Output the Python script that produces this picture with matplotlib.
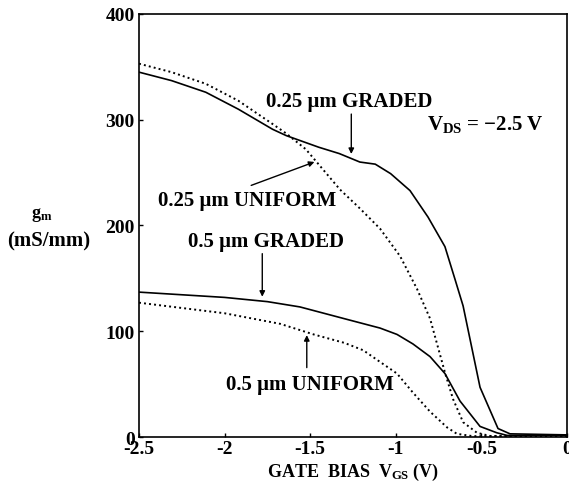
import matplotlib.pyplot as plt
from matplotlib.ticker import FixedLocator, FixedFormatter

# gate bias (V) and transconductance (mS/mm)
vgs_025_graded = [-2.5, -2.31, -2.11, -1.92, -1.72, -1.64, -1.45, -1.33, -1.21, -1.12,
                  -1.03, -0.917, -0.812, -0.713, -0.654, -0.607, -0.508, -0.403, -0.333, 0.0]
gm_025_graded = [345, 337, 326, 310, 291, 285, 274, 268, 260, 258,
                 249, 233, 208, 180, 149, 124, 47, 8, 3, 2]

vgs_025_uniform = [-2.5, -2.31, -2.11, -1.92, -1.72, -1.64, -1.525, -1.326, -1.209, -1.092,
                   -0.975, -0.876, -0.80, -0.713, -0.666, -0.607, -0.526, -0.45, 0.0]
gm_025_uniform = [353, 345, 334, 318, 296, 287, 272, 234, 216, 197,
                  171, 140, 112, 61, 36, 14, 4, 1, 1]

vgs_05_graded = [-2.5, -2.0, -1.75, -1.56, -1.28, -1.092, -0.993, -0.9, -0.8, -0.713,
                 -0.625, -0.508, -0.41, -0.35, 0.0]
gm_05_graded = [137, 132, 128, 123, 111, 103, 97, 88, 76, 60,
                34, 10, 4, 1.5, 1.5]

vgs_05_uniform = [-2.5, -2.0, -1.675, -1.48, -1.3, -1.19, -1.092, -0.993, -0.9, -0.8,
                  -0.7, -0.643, -0.55, 0.0]
gm_05_uniform = [127, 117, 107, 97, 89, 82, 71, 60, 42, 24,
                 9, 3, 0.8, 0.8]

x_ticks = [-2.5, -2, -1.5, -1, -0.5, 0]
x_tick_labels = ["-2.5", "-2", "-1.5", "-1", "-0.5", "0"]
y_ticks = [0, 100, 200, 300, 400]

plt.rcParams["font.family"] = ["Liberation Serif", "DejaVu Serif"]
plt.rcParams["font.weight"] = "bold"
plt.rcParams["mathtext.fontset"] = "custom"
plt.rcParams["mathtext.rm"] = "Liberation Serif:bold"
plt.rcParams["mathtext.bf"] = "Liberation Serif:bold"
plt.rcParams["mathtext.it"] = "Liberation Serif:bold"

fig = plt.figure(figsize=(5.69, 4.85), dpi=100)
ax = fig.add_axes([0.2443, 0.0969, 0.7522, 0.8722])

ax.plot(vgs_025_graded, gm_025_graded, color="black", lw=1.2)
ax.plot(vgs_025_uniform, gm_025_uniform, color="black", lw=1.4, ls=(0, (1, 1.6)))
ax.plot(vgs_05_graded, gm_05_graded, color="black", lw=1.2)
ax.plot(vgs_05_uniform, gm_05_uniform, color="black", lw=1.4, ls=(0, (1, 1.6)))

ax.set_xlim(-2.5, 0)
ax.set_ylim(0, 400)
ax.xaxis.set_major_locator(FixedLocator(x_ticks))
ax.xaxis.set_major_formatter(FixedFormatter(x_tick_labels))
ax.set_yticks(y_ticks)
ax.tick_params(direction="in", length=3, width=1, labelsize=14)
ax.tick_params(axis="x", pad=2)
ax.tick_params(axis="y", pad=3)
for lab in ax.get_xticklabels() + ax.get_yticklabels():
    lab.set_fontweight("bold")
for s in ax.spines.values():
    s.set_linewidth(1.2)

ax.set_xlabel("GATE  BIAS  V$_{\\mathrm{GS}}$ (V)", fontsize=13, fontweight="bold", labelpad=3)
fig.text(0.074, 0.556, "g$_{\\mathrm{m}}$", fontsize=13, fontweight="bold", ha="center", va="center")
fig.text(0.086, 0.503, "(mS/mm)", fontsize=15, fontweight="bold", ha="center", va="center")

arrow = dict(arrowstyle="-|>", color="black", lw=1, mutation_scale=8)
txt = dict(fontsize=15, fontweight="bold", ha="center", va="center")

ax.text(-1.27, 318, "0.25 \u03bcm GRADED", **txt)
ax.annotate("", xy=(-1.26, 265), xytext=(-1.26, 308), arrowprops=arrow)

ax.text(-1.87, 224, "0.25 \u03bcm UNIFORM", **txt)
ax.annotate("", xy=(-1.46, 261), xytext=(-1.86, 237), arrowprops=arrow)

ax.text(-1.76, 185, "0.5 \u03bcm GRADED", **txt)
ax.annotate("", xy=(-1.78, 130), xytext=(-1.78, 176), arrowprops=arrow)

ax.text(-1.50, 50, "0.5 \u03bcm UNIFORM", **txt)
ax.annotate("", xy=(-1.52, 99), xytext=(-1.52, 63), arrowprops=arrow)

ax.text(-0.815, 296, "V$_{\\mathrm{DS}}$ = \u22122.5 V", fontsize=15, fontweight="bold", ha="left", va="center")

fig.savefig("out.png", dpi=100)
